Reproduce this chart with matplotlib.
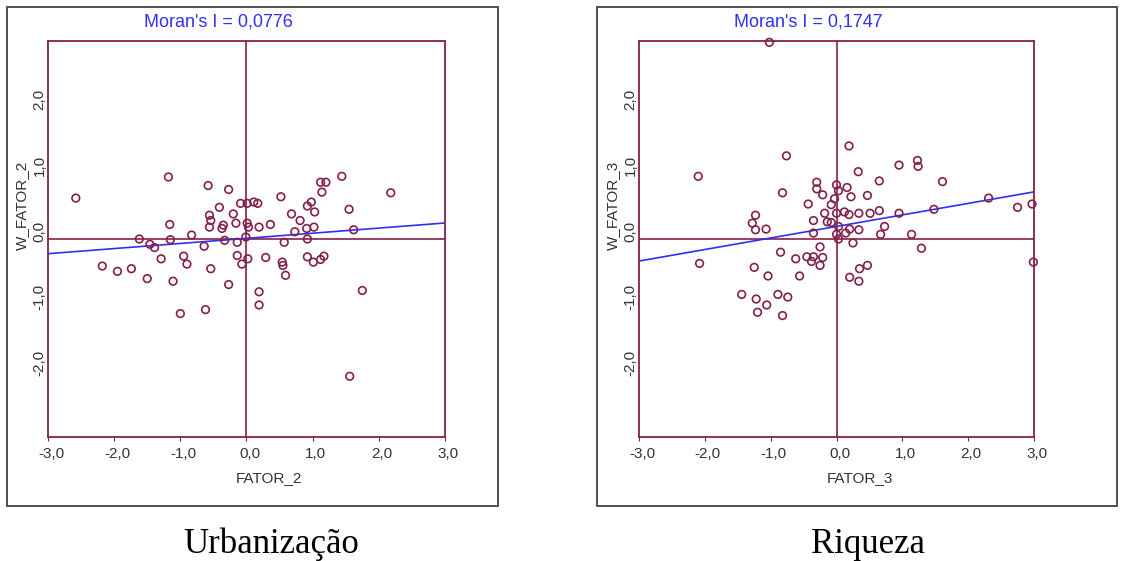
import numpy as np
import matplotlib.pyplot as plt
from matplotlib.patches import Rectangle
from matplotlib.transforms import ScaledTranslation

plt.rcParams['font.family'] = ['Liberation Sans', 'DejaVu Sans']

# Urbanização (FATOR_2)
fator_2 = [-1.18, -0.58, -0.27, -0.41, -0.09, 0.01, 0.11, 0.17, -0.56, -0.54,
           -0.56, -0.20, -0.16, -0.37, -0.35, 0.01, 0.03, 0.19, 0.36, -0.01,
           -1.16, -1.15, -0.83, -1.62, -1.46, -1.39, -1.29, -0.95, -0.90, -0.64,
           -0.54, -0.33, -0.14, -0.14, 0.02, -0.07, 0.29, 0.54, 0.55, 0.59,
           0.57, 0.92, 1.01, 1.12, 1.17, 0.92, 0.73, 0.91, 1.02, 0.81,
           0.68, 0.92, 0.98, 1.03, 0.52, 1.12, 1.20, 1.14, 1.44, 1.55,
           1.62, 2.18, 1.75, -1.50, -1.11, -1.00, -0.62, -0.27, 0.19, 0.19,
           -2.58, -2.18, -1.95, -1.74, 1.56]
w_fator_2 = [0.94, 0.81, 0.75, 0.48, 0.54, 0.54, 0.56, 0.54, 0.36, 0.28,
             0.18, 0.38, 0.24, 0.16, 0.21, 0.24, 0.18, 0.18, 0.22, 0.03,
             0.22, -0.01, 0.06, 0.00, -0.08, -0.13, -0.30, -0.26, -0.38, -0.11,
             -0.45, -0.02, -0.05, -0.25, -0.30, -0.38, -0.28, -0.35, -0.40, -0.55,
             -0.05, -0.27, -0.35, -0.31, -0.26, 0.00, 0.11, 0.16, 0.18, 0.28,
             0.38, 0.50, 0.56, 0.41, 0.64, 0.86, 0.86, 0.71, 0.95, 0.45,
             0.14, 0.70, -0.78, -0.60, -0.64, -1.13, -1.07, -0.69, -0.80, -1.00,
             0.62, -0.41, -0.49, -0.45, -2.08]
moran_2, intercept_2 = 0.0776, 0.01

# Riqueza (FATOR_3)
fator_3 = [0.19, -0.76, -2.10, -0.82, -0.30, -0.30, -0.21, 0.00, 0.03, 0.16,
           0.22, -0.03, -0.08, -0.43, 0.33, 0.47, 0.65, 0.95, 1.23, 1.24,
           1.61, 1.48, 0.95, 0.65, 0.51, 0.34, 0.19, 0.12, 0.00, -0.18,
           -0.35, -0.14, -0.08, 0.03, 0.20, 0.34, 0.73, 0.67, 1.14, 1.29,
           0.00, 0.03, 0.14, 0.25, -0.35, -1.23, -1.28, -1.23, -1.07, -0.85,
           -0.62, -0.45, -0.38, -0.35, -0.25, -0.21, -0.25, -0.56, -1.04, -1.25,
           -2.08, -1.44, -1.22, -1.06, -1.20, -0.89, -0.74, -0.82, 0.20, 0.34,
           0.35, 0.47, 2.31, 2.75, 2.97, 2.99, -1.02]
w_fator_3 = [1.41, 1.26, 0.95, 0.70, 0.86, 0.76, 0.67, 0.82, 0.73, 0.78,
             0.64, 0.61, 0.52, 0.53, 1.02, 0.66, 0.88, 1.12, 1.19, 1.10,
             0.87, 0.45, 0.39, 0.43, 0.39, 0.39, 0.37, 0.41, 0.39, 0.39,
             0.28, 0.26, 0.25, 0.19, 0.15, 0.14, 0.19, 0.07, 0.07, -0.14,
             0.07, 0.00, 0.09, -0.06, 0.09, 0.36, 0.24, 0.14, 0.15, -0.20,
             -0.30, -0.27, -0.34, -0.27, -0.12, -0.28, -0.40, -0.56, -0.56, -0.43,
             -0.37, -0.84, -0.91, -1.00, -1.11, -0.84, -0.88, -1.16, -0.58, -0.64,
             -0.45, -0.40, 0.62, 0.48, 0.53, -0.35, 2.98]
moran_3, intercept_3 = 0.1747, 0.19

xticks = [-3, -2, -1, 0, 1, 2, 3]
xticklabels = ['-3,0', '-2,0', '-1,0', '0,0', '1,0', '2,0', '3,0']
yticks = [-2, -1, 0, 1, 2]
yticklabels = ['-2,0', '-1,0', '0,0', '1,0', '2,0']

W, H = 1124, 561
fig = plt.figure(figsize=(W / 100, H / 100), dpi=100)

def rect(x0, y0, x1, y1):
    # caixa em pixels (origem no topo) -> fração da figura
    return [x0 / W, 1 - y1 / H, (x1 - x0) / W, (y1 - y0) / H]

marrom = '#84204c'
azul = '#3030f0'
cinza = '#333333'

paineis = [
    dict(x=fator_2, y=w_fator_2, moran=moran_2, b=intercept_2, nome='FATOR_2',
         ax=(48, 41, 445, 437), box=(7, 7, 498, 506), titulo_x=218, legenda='Urbanização', legenda_x=271),
    dict(x=fator_3, y=w_fator_3, moran=moran_3, b=intercept_3, nome='FATOR_3',
         ax=(639, 41, 1034, 437), box=(597, 7, 1117, 506), titulo_x=808, legenda='Riqueza', legenda_x=868),
]

for p in paineis:
    ax = fig.add_axes(rect(*p['ax']))
    ax.set_xlim(-3, 3)
    ax.set_ylim(-3, 3)

    ax.axhline(0, color=marrom, lw=1.2, zorder=1)
    ax.axvline(0, color=marrom, lw=1.2, zorder=1)
    ax.axline((0, p['b']), slope=p['moran'], color=azul, lw=1.2, zorder=2)
    ax.scatter(p['x'], p['y'], s=30, facecolors='none', edgecolors=marrom,
               linewidths=1.2, zorder=3, clip_on=False)

    for s in ax.spines.values():
        s.set_color(marrom)
        s.set_linewidth(1.3)

    ax.set_xticks(xticks)
    ax.set_xticklabels(xticklabels)
    ax.set_yticks(yticks)
    ax.set_yticklabels(yticklabels)
    ax.tick_params(axis='x', length=3, color=marrom, pad=4, labelsize=11, labelcolor=cinza)
    ax.tick_params(axis='y', length=0, pad=1, labelsize=11, labelcolor=cinza, labelrotation=90)
    for lab in ax.get_xticklabels():
        lab.set_transform(lab.get_transform() + ScaledTranslation(0.03, 0, fig.dpi_scale_trans))
    for lab in ax.get_yticklabels():
        lab.set_va('center')
        lab.set_transform(lab.get_transform() + ScaledTranslation(0, 0.08, fig.dpi_scale_trans))

    x0, y0, x1, y1 = p['ax']
    ax.set_xlabel(p['nome'], fontsize=11, color=cinza)
    ax.xaxis.set_label_coords(221 / (x1 - x0), -(478 - y1) / (y1 - y0))
    ax.xaxis.label.set_va('center')
    ax.set_ylabel('W_' + p['nome'], fontsize=11, color=cinza)
    ax.yaxis.set_label_coords(-26 / (x1 - x0), (y1 - 205) / (y1 - y0))
    ax.yaxis.label.set_va('center')

    fig.text(p['titulo_x'] / W, 1 - 22 / H, "Moran's I = " + f"{p['moran']:.4f}".replace('.', ','),
             color=azul, fontsize=13, ha='center', va='center')

    bx0, by0, bx1, by1 = p['box']
    fig.add_artist(Rectangle((bx0 / W, 1 - by1 / H), (bx1 - bx0) / W, (by1 - by0) / H,
                             transform=fig.transFigure, fill=False, edgecolor='#505050', lw=1.4))

    fig.text(p['legenda_x'] / W, 1 - 553 / H, p['legenda'], family=['Liberation Serif', 'DejaVu Serif'],
             fontsize=25, ha='center', va='baseline', color='black')

fig.savefig('out.png', dpi=100)
